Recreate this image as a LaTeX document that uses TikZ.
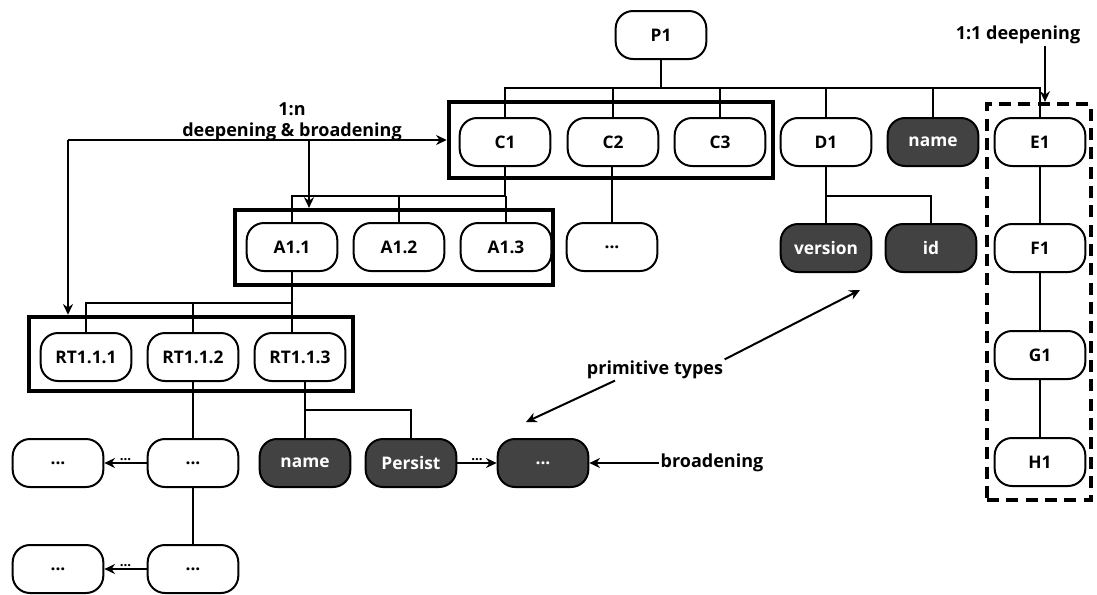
\documentclass[tikz,border=0pt]{standalone}
\usepackage{fontspec}
\setmainfont{Open Sans}
\usetikzlibrary{arrows.meta}
\definecolor{primfill}{HTML}{424242}
\begin{document}
\begin{tikzpicture}[x=0.75pt,y=-0.75pt,
  box/.style={draw, line width=1.5pt, rounded corners=13pt, minimum width=68pt,
    minimum height=36pt, inner sep=0pt, font=\bfseries\fontsize{13}{15}\selectfont},
  primbox/.style={box, fill=primfill, text=white},
  group/.style={draw, line width=3.4pt, inner sep=0pt},
  dashgroup/.style={group, line width=3.2pt, dash pattern=on 9pt off 5.5pt},
  link/.style={line width=1.5pt},
  arr/.style={line width=1.5pt, -{Stealth[length=8pt,width=7.5pt]}},
  lbl/.style={inner sep=1pt, font=\bfseries\fontsize{13.5}{16}\selectfont},
  dots/.style={inner sep=1pt, font=\bfseries\fontsize{10}{10}\selectfont}
]
\useasboundingbox (0,0) rectangle (1097,594);

% grouping frames
\node[group, minimum width=243pt, minimum height=57pt] (Cbox) at (611,140) {};
\node[group, minimum width=238.5pt, minimum height=56pt] (Abox) at (394,247.5) {};
\node[group, minimum width=243pt, minimum height=55.5pt] (Rbox) at (191,354) {};
\node[dashgroup, minimum width=78pt, minimum height=297pt] (Ebox) at (1039,302) {};

% level 0
\node[box] (P1) at (661,35) {P1};
% level 1
\node[box] (C1) at (505,142) {C1};
\node[box] (C2) at (613,142) {C2};
\node[box] (C3) at (720,142) {C3};
\node[box] (D1) at (826,142) {D1};
\node[primbox] (name1) at (933,142) {name};
\node[box] (E1) at (1040,142) {E1};
% level 2
\node[box] (A11) at (292,247) {A1.1};
\node[box] (A12) at (399,247) {A1.2};
\node[box] (A13) at (506,247) {A1.3};
\node[box] (C2d) at (612,247) {...};
\node[primbox] (version) at (826,248) {version};
\node[primbox] (id) at (931,248) {id};
\node[box] (F1) at (1040,248) {F1};
\node[box] (G1) at (1040,355) {G1};
\node[box] (H1) at (1040,462) {H1};
% level 3
\node[box] (RT1) at (86,357) {RT1.1.1};
\node[box] (RT2) at (193,357) {RT1.1.2};
\node[box] (RT3) at (300,357) {RT1.1.3};
% level 4
\node[box] (L1) at (58,463) {...};
\node[box] (M1) at (193,463) {...};
\node[primbox] (name2) at (305,463) {name};
\node[primbox] (Persist) at (411,463) {Persist};
\node[primbox] (pd) at (543,463) {...};
% level 5
\node[box] (L2) at (58,569) {...};
\node[box] (M2) at (193,569) {...};

% tree connectors
\coordinate (busC) at (0,88);
\coordinate (busA) at (0,196);
\coordinate (busR) at (0,303);
\coordinate (busN) at (0,410);
\draw[link] (P1.south) -- (P1.south |- busC);
\draw[link] (C1.north) |- (E1.north |- busC) -- (E1.north);
\foreach \n in {C2,C3,D1,name1} \draw[link] (\n.north) -- (\n.north |- busC);

\draw[link] (C1.south) -- (C1.south |- busA) -| (A11.north);
\foreach \n in {A12,A13} \draw[link] (\n.north) -- (\n.north |- busA);
\draw[link] (C2d.north |- C2.south) -- (C2d.north);

\draw[link] (D1.south) -- (version.north);
\draw[link] (version.north |- busA) -| (id.north);

\draw[link] (E1.south) -- (F1.north);
\draw[link] (F1.south) -- (G1.north);
\draw[link] (G1.south) -- (H1.north);

\draw[link] (A11.south) -- (A11.south |- RT3.north);
\draw[link] (A11.south |- busR) -| (RT1.north);
\draw[link] (RT2.north) -- (RT2.north |- busR);

\draw[link] (RT2.south) -- (M1.north);
\draw[link] (M1.south) -- (M2.north);
\draw[arr] (M1.west) -- node[dots, above] {...} (L1.east);
\draw[arr] (M2.west) -- node[dots, above] {...} (L2.east);

\draw[link] (name2.north |- RT3.south) -- (name2.north);
\draw[link] (name2.north |- busN) -| (Persist.north);
\draw[arr] (Persist.east) -- node[dots, above] {...} (pd.west);

% annotations
\node[lbl, align=center] (lbn) at (292,122) {1:n\\deepening \& broadening};
\coordinate (corner) at (68,140);
\coordinate (hub) at (309,140);
\draw[arr] (corner) -- (Cbox.west);
\draw[arr] (corner) -- (corner |- Rbox.north);
\draw[arr] (hub) -- (hub |- Abox.north);

\node[lbl] (l11) at (1018,35) {1:1 deepening};
\draw[arr] ([xshift=27pt*0.75]l11.south) -- ([xshift=6pt*0.75]Ebox.north);

\node[lbl] (prim) at (655,370) {primitive types};
\coordinate (tipA) at (526,422);
\coordinate (tipB) at (860,290);
\draw[arr] ([xshift=-30pt]prim.south) -- (tipA);
\draw[arr] (prim.north east) -- (tipB);

\node[lbl] (brd) at (712,463) {broadening};
\draw[arr] (brd.west) -- (pd.east);
\end{tikzpicture}
\end{document}
